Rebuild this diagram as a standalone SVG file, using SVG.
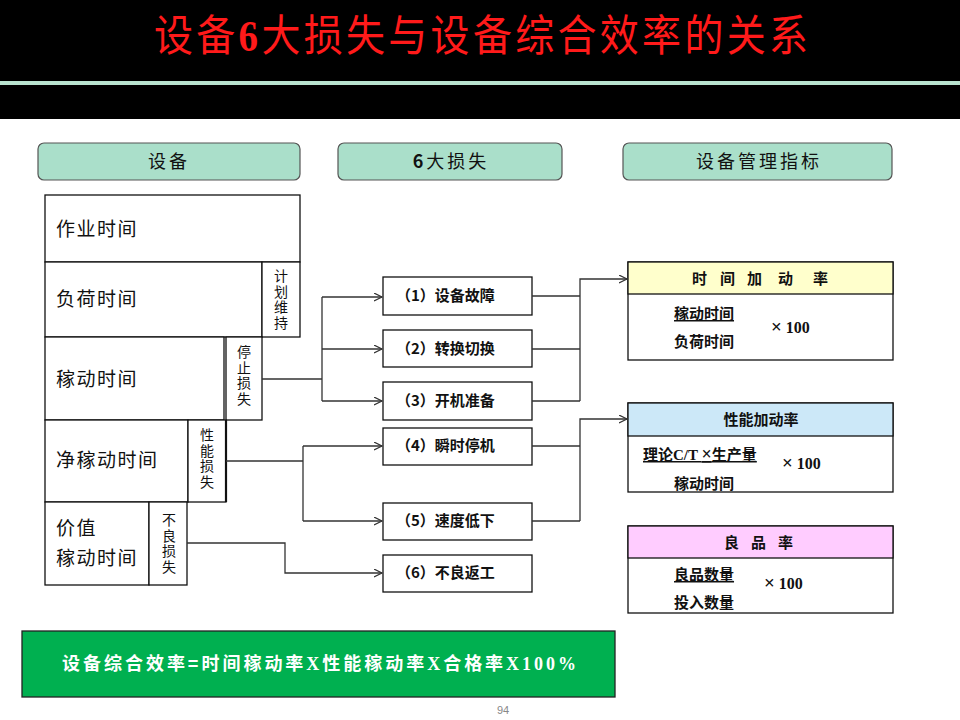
<svg xmlns="http://www.w3.org/2000/svg" width="960" height="720" viewBox="0 0 960 720">
<defs>
<style>
.cjk{font-family:"Noto Sans CJK SC","Liberation Sans",sans-serif;}
.box{fill:#fff;stroke:#111;stroke-width:1.3;}
.hdr{fill:#aadfca;stroke:#555;stroke-width:1.2;}
.lt{font-size:19px;letter-spacing:1.5px;fill:#111;}
.vt{font-size:14px;fill:#111;text-anchor:middle;writing-mode:tb;letter-spacing:1.5px;}
.lb{font-size:15px;font-weight:bold;fill:#111;}
.rt{font-size:15px;font-weight:bold;fill:#111;}
.x100{font-family:"Liberation Serif",serif;font-size:16px;font-weight:bold;fill:#111;}
.conn{fill:none;stroke:#333;stroke-width:1.3;}
</style>
<marker id="arr" markerWidth="10" markerHeight="10" refX="8" refY="4" orient="auto" markerUnits="userSpaceOnUse">
<path d="M0,0 L8,4 L0,8" fill="none" stroke="#333" stroke-width="1.2"/>
</marker>
</defs>
<rect x="0" y="0" width="960" height="720" fill="#fff"/>
<g id="title">
<rect x="0" y="0" width="960" height="119" fill="#000"/>
<rect x="0" y="81" width="960" height="4" fill="#b9e3cf"/>
<text x="154" y="51" class="cjk" font-size="39" fill="#ff1a1a" textLength="654" lengthAdjust="spacing" transform="translate(0,51) scale(1,1.12) translate(0,-51)">设备<tspan font-family="Liberation Serif" font-weight="bold">6</tspan>大损失与设备综合效率的关系</text>
</g>
<g id="hdr-equip">
<rect x="38" y="143" width="262" height="37" rx="6" class="hdr"/>
<text x="169" y="168" class="cjk" font-size="18" letter-spacing="3" text-anchor="middle" fill="#111">设备</text>
</g>
<g id="hdr-loss">
<rect x="338" y="143" width="224" height="37" rx="6" class="hdr"/>
<text x="451" y="168" class="cjk" font-size="18" letter-spacing="3" text-anchor="middle" fill="#111"><tspan font-weight="bold">6</tspan>大损失</text>
</g>
<g id="hdr-index">
<rect x="623" y="143" width="269" height="37" rx="6" class="hdr"/>
<text x="759" y="168" class="cjk" font-size="18" letter-spacing="3" text-anchor="middle" fill="#111">设备管理指标</text>
</g>
<g id="work-time">
<rect x="45" y="195" width="255" height="67" class="box"/>
<text x="56" y="236" class="cjk lt">作业时间</text>
</g>
<g id="load-time">
<rect x="45" y="262" width="217" height="75" class="box"/>
<text x="56" y="306" class="cjk lt">负荷时间</text>
</g>
<g id="plan-maint">
<rect x="262" y="262" width="38" height="75" class="box"/>
<text x="281" y="300" class="cjk vt">计划维持</text>
</g>
<g id="run-time">
<rect x="45" y="337" width="179" height="83" class="box"/>
<text x="56" y="386" class="cjk lt">稼动时间</text>
</g>
<g id="stop-loss">
<rect x="226" y="337" width="36" height="83" class="box"/>
<text x="244" y="376" class="cjk vt">停止损失</text>
</g>
<g id="net-run-time">
<rect x="45" y="420" width="143" height="82" class="box"/>
<text x="56" y="467" class="cjk lt">净稼动时间</text>
</g>
<g id="perf-loss">
<rect x="188" y="420" width="38" height="82" class="box"/>
<line x1="226" y1="420" x2="226" y2="502" stroke="#111" stroke-width="2.2"/>
<text x="207" y="459" class="cjk vt">性能损失</text>
</g>
<g id="value-time">
<rect x="45" y="502" width="104" height="83" class="box"/>
<text class="cjk lt"><tspan x="56" y="535">价值</tspan><tspan x="56" y="565">稼动时间</tspan></text>
</g>
<g id="defect-loss">
<rect x="149" y="502" width="38" height="83" class="box"/>
<text x="169" y="544" class="cjk vt">不良损失</text>
</g>
<g id="loss1">
<rect x="383" y="277" width="149" height="38" class="box"/>
<text x="396" y="301" class="cjk lb">（1）设备故障</text>
</g>
<g id="loss2">
<rect x="383" y="330" width="149" height="37" class="box"/>
<text x="396" y="354" class="cjk lb">（2）转换切换</text>
</g>
<g id="loss3">
<rect x="383" y="382" width="149" height="38" class="box"/>
<text x="396" y="406" class="cjk lb">（3）开机准备</text>
</g>
<g id="loss4">
<rect x="383" y="428" width="149" height="37" class="box"/>
<text x="396" y="451" class="cjk lb">（4）瞬时停机</text>
</g>
<g id="loss5">
<rect x="383" y="503" width="149" height="37" class="box"/>
<text x="396" y="526" class="cjk lb">（5）速度低下</text>
</g>
<g id="loss6">
<rect x="383" y="555" width="149" height="37" class="box"/>
<text x="396" y="578" class="cjk lb">（6）不良返工</text>
</g>
<g id="time-rate">
<rect x="628" y="262" width="265" height="98" class="box"/>
<rect x="628" y="262" width="265" height="32" fill="#ffffcc" stroke="#111" stroke-width="1.3"/>
<text y="284" class="cjk rt"><tspan x="692">时</tspan><tspan x="720">间</tspan><tspan x="747">加</tspan><tspan x="778">动</tspan><tspan x="813">率</tspan></text>
<text x="674" y="319" class="cjk rt" text-decoration="underline">稼动时间</text>
<text x="674" y="347" class="cjk rt">负荷时间</text>
<text x="771" y="333" class="x100"><tspan font-size="19">×</tspan> 100</text>
</g>
<g id="perf-rate">
<rect x="628" y="403" width="265" height="89" class="box"/>
<rect x="628" y="403" width="265" height="33" fill="#cce8f8" stroke="#111" stroke-width="1.3"/>
<text x="761" y="425" class="cjk rt" text-anchor="middle">性能加动率</text>
<text x="643" y="460" class="cjk rt" text-decoration="underline">理论<tspan font-family="Liberation Serif">C/T <tspan font-size="18">×</tspan></tspan>生产量</text>
<text x="674" y="489" class="cjk rt">稼动时间</text>
<text x="782" y="469" class="x100"><tspan font-size="19">×</tspan> 100</text>
</g>
<g id="good-rate">
<rect x="628" y="526" width="265" height="87" class="box"/>
<rect x="628" y="526" width="265" height="32" fill="#ffccff" stroke="#111" stroke-width="1.3"/>
<text y="548" class="cjk rt"><tspan x="724">良</tspan><tspan x="751">品</tspan><tspan x="778">率</tspan></text>
<text x="674" y="580" class="cjk rt" text-decoration="underline">良品数量</text>
<text x="674" y="608" class="cjk rt">投入数量</text>
<text x="764" y="589" class="x100"><tspan font-size="19">×</tspan> 100</text>
</g>
<g id="connectors">
<path class="conn" d="M262,379 H322 M322,297 V401"/>
<path class="conn" d="M322,297 H382" marker-end="url(#arr)"/>
<path class="conn" d="M322,349 H382" marker-end="url(#arr)"/>
<path class="conn" d="M322,401 H382" marker-end="url(#arr)"/>
<path class="conn" d="M226,461 H303 M303,446 V521"/>
<path class="conn" d="M303,446 H382" marker-end="url(#arr)"/>
<path class="conn" d="M303,521 H382" marker-end="url(#arr)"/>
<path class="conn" d="M187,543 H285 V573 H382" marker-end="url(#arr)"/>
<path class="conn" d="M532,296 H580 M532,349 H580 M532,401 H580"/>
<path class="conn" d="M580,401 V279 H627" marker-end="url(#arr)"/>
<path class="conn" d="M532,446 H580 M532,521 H580"/>
<path class="conn" d="M580,521 V419 H627" marker-end="url(#arr)"/>
</g>
<g id="formula">
<rect x="22" y="631" width="593" height="66" fill="#00b050" stroke="#222" stroke-width="1.3"/>
<text x="319" y="670" class="cjk" font-size="18" font-weight="bold" fill="#fff" text-anchor="middle" textLength="514" lengthAdjust="spacing">设备综合效率=时间稼动率<tspan font-family="Liberation Serif">X</tspan>性能稼动率<tspan font-family="Liberation Serif">X</tspan>合格率<tspan font-family="Liberation Serif">X100%</tspan></text>
</g>
<text x="503" y="714" font-family="Liberation Sans,sans-serif" font-size="11" fill="#888" text-anchor="middle">94</text>
</svg>
